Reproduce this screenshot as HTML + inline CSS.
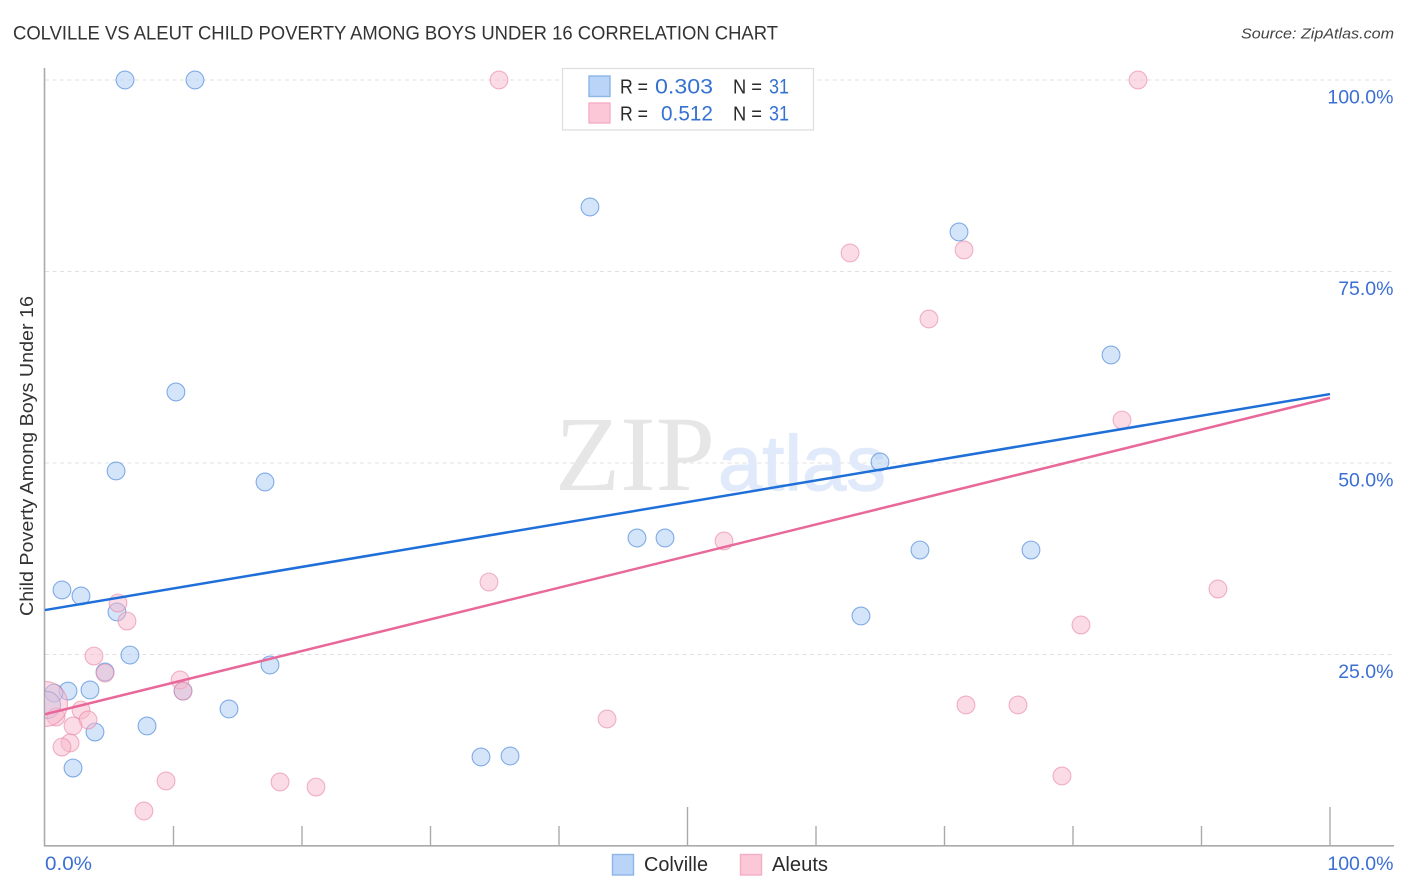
<!DOCTYPE html>
<html lang="en">
<head>
<meta charset="utf-8">
<title>Colville vs Aleut Child Poverty Among Boys Under 16 Correlation Chart</title>
<style>
  html, body { margin: 0; padding: 0; background: #fff; }
  svg { display: block; font-family: "Liberation Sans", sans-serif; }
</style>
</head>
<body>
<svg id="chart" xmlns="http://www.w3.org/2000/svg" width="1406" height="892" viewBox="0 0 1406 892">
  <defs>
    <clipPath id="plot-clip"><rect x="45" y="60" width="1350" height="786"/></clipPath>
  </defs>
  <rect width="1406" height="892" fill="#fff"/>
  <text x="13" y="39.5" font-size="19" fill="#333" textLength="765" lengthAdjust="spacingAndGlyphs">COLVILLE VS ALEUT CHILD POVERTY AMONG BOYS UNDER 16 CORRELATION CHART</text>
  <text x="1394" y="38.5" font-size="15" font-style="italic" fill="#444" text-anchor="end" textLength="153" lengthAdjust="spacingAndGlyphs">Source: ZipAtlas.com</text>
  <g id="grid"></g>
  <g>
    <text x="555" y="490" font-family="'Liberation Serif', serif" font-size="107" fill="#e6e6e6" textLength="160" lengthAdjust="spacingAndGlyphs">ZIP</text>
    <text x="718" y="490" font-size="78" fill="#e0eafa" stroke="#e0eafa" stroke-width="1.2" textLength="168" lengthAdjust="spacingAndGlyphs">atlas</text>
  </g>
  <g id="axes"></g>
  <g id="points" clip-path="url(#plot-clip)"></g>
  <g id="lines"></g>
  <g id="labels"></g>
  <text transform="translate(33,456) rotate(-90)" font-size="18" fill="#333" text-anchor="middle" textLength="320" lengthAdjust="spacingAndGlyphs">Child Poverty Among Boys Under 16</text>

  <g>
    <rect x="562.5" y="68.5" width="251" height="61.5" fill="#fff" stroke="#dddddd" stroke-width="1.2"/>
    <rect x="589" y="76" width="21" height="20.5" fill="#b9d4f7" stroke="#8db5e8" stroke-width="1.4"/>
    <rect x="589" y="103" width="21" height="20" fill="#fcc8d8" stroke="#f4aec6" stroke-width="1.4"/>
    <g font-size="20" fill="#2b2b2b">
      <text x="620" y="93.5" textLength="28" lengthAdjust="spacingAndGlyphs">R =</text>
      <text x="655" y="93.5" fill="#3571d0" font-size="21" textLength="58" lengthAdjust="spacingAndGlyphs">0.303</text>
      <text x="733" y="93.5" textLength="29" lengthAdjust="spacingAndGlyphs">N =</text>
      <text x="769" y="93.5" fill="#3571d0" font-size="21" textLength="20" lengthAdjust="spacingAndGlyphs">31</text>
      <text x="620" y="120.5" textLength="28" lengthAdjust="spacingAndGlyphs">R =</text>
      <text x="661" y="120.5" fill="#3571d0" font-size="21" textLength="52" lengthAdjust="spacingAndGlyphs">0.512</text>
      <text x="733" y="120.5" textLength="29" lengthAdjust="spacingAndGlyphs">N =</text>
      <text x="769" y="120.5" fill="#3571d0" font-size="21" textLength="20" lengthAdjust="spacingAndGlyphs">31</text>
    </g>
  </g>

  <g>
    <g>
      <rect x="612.5" y="854.5" width="21" height="20.5" fill="#b9d4f7" stroke="#8db5e8" stroke-width="1.4"/>
      <text x="644" y="871" font-size="20" fill="#2b2b2b" textLength="64" lengthAdjust="spacingAndGlyphs">Colville</text>
    </g>
    <g>
      <rect x="740.5" y="854.5" width="21" height="20.5" fill="#fcc8d8" stroke="#f4aec6" stroke-width="1.4"/>
      <text x="772" y="871" font-size="20" fill="#2b2b2b" textLength="56" lengthAdjust="spacingAndGlyphs">Aleuts</text>
    </g>
  </g>
</svg>

<script>
const colvilleX = [6.23, 11.67, 42.41, 71.13, 82.96, 10.19, 5.53, 17.12, 64.98, 46.07, 48.25, 68.09, 76.73, 63.50, 1.32, 2.80, 5.60, 6.61, 4.67, 17.51, 10.74, 3.50, 1.79, 0.70, 14.32, 7.94, 3.89, 2.18, 33.93, 36.19, 0.16];
const colvilleY = [100, 100, 83.42, 80.16, 64.10, 59.27, 48.96, 47.52, 50.13, 40.21, 40.21, 38.64, 38.64, 30.03, 33.42, 32.64, 30.55, 24.93, 22.72, 23.63, 20.23, 20.37, 20.23, 19.97, 17.89, 15.67, 14.88, 10.18, 11.62, 11.75, 18.41];
const aleutsX = [35.33, 85.06, 62.65, 71.52, 68.79, 83.81, 52.84, 34.55, 91.28, 80.62, 5.68, 6.38, 3.81, 4.67, 10.51, 10.74, 71.67, 75.72, 43.74, 2.80, 3.35, 2.18, 1.95, 1.32, 0.86, 79.14, 9.42, 18.29, 21.09, 7.70, 0];
const aleutsY = [100, 100, 77.42, 77.81, 68.80, 55.61, 39.82, 34.46, 33.55, 28.85, 31.72, 29.37, 24.80, 22.58, 21.67, 20.23, 18.41, 18.41, 16.58, 17.75, 16.45, 15.67, 13.45, 12.92, 16.84, 9.14, 8.49, 8.36, 7.70, 4.57, 18.54];
const colvilleTrendX = [0, 100];
const colvilleTrendY = [30.8, 59.0];
const aleutsTrendX = [0, 100];
const aleutsTrendY = [17.2, 58.5];
const yTickValues = [100, 75, 50, 25];
const yTickLabels = ["100.0%", "75.0%", "50.0%", "25.0%"];
const xTickValues = [0, 10, 20, 30, 40, 50, 60, 70, 80, 90, 100];
const xTickLabels = ["0.0%", "100.0%"];

const SVG_NS = "http://www.w3.org/2000/svg";
const xScale = v => 45 + v * 12.85;
const yScale = v => 846 - v * 7.66;

function make(tag, parent, attrs) {
  const el = document.createElementNS(SVG_NS, tag);
  for (const k in attrs) el.setAttribute(k, attrs[k]);
  parent.appendChild(el);
  return el;
}

const grid = document.getElementById("grid");
yTickValues.forEach(v => {
  const g = make("line", grid, { x1: 45, x2: 1394, y1: yScale(v), y2: yScale(v), stroke: "#e0e0e0", "stroke-width": 1, "stroke-dasharray": "4 3.5" });
  
  
});

const axes = document.getElementById("axes");
const yAxis = make("line", axes, { x1: 44.5, x2: 44.5, y1: 68, y2: 846.5, stroke: "#aaaaaa", "stroke-width": 1.6 });


const xAxis = make("line", axes, { x1: 44, x2: 1394, y1: 845.8, y2: 845.8, stroke: "#aaaaaa", "stroke-width": 1.6 });


xTickValues.forEach(v => {
  if (v === 0) return;
  const top = v % 50 === 0 ? 807 : 826;
  const t = make("line", axes, { x1: xScale(v), x2: xScale(v), y1: top, y2: 846, stroke: "#aaaaaa", "stroke-width": 1.4 });
  
  
});

const pointsGroup = document.getElementById("points");
function drawSeries(xs, ys, fill, stroke, name, largeRadius) {
  xs.forEach((x, i) => {
    const r = i === xs.length - 1 ? largeRadius : 8.9;
    const c = make("circle", pointsGroup, { cx: xScale(x), cy: yScale(ys[i]), r: r, fill: fill, "fill-opacity": 0.5, stroke: stroke, "stroke-opacity": 0.62, "stroke-width": 1.1 });
    
    
  });
}
drawSeries(colvilleX, colvilleY, "#acccf4", "#3f7fd8", "colville-point", 13.5);
drawSeries(aleutsX, aleutsY, "#f8b8cc", "#e888a8", "aleuts-point", 22.5);

const linesGroup = document.getElementById("lines");
const blueLine = make("line", linesGroup, { x1: xScale(colvilleTrendX[0]), y1: yScale(colvilleTrendY[0]), x2: xScale(colvilleTrendX[1]), y2: yScale(colvilleTrendY[1]), stroke: "#1f6fd9", "stroke-width": 2.5 });


const pinkLine = make("line", linesGroup, { x1: xScale(aleutsTrendX[0]), y1: yScale(aleutsTrendY[0]), x2: xScale(aleutsTrendX[1]), y2: yScale(aleutsTrendY[1]), stroke: "#e9689a", "stroke-width": 2.5 });



const labelsGroup = document.getElementById("labels");
yTickValues.forEach((v, i) => {
  const t = make("text", labelsGroup, { x: 1393.5, y: yScale(v) + 23.5, "font-size": 19.5, fill: "#3b6fd4", "text-anchor": "end" });
  t.textContent = yTickLabels[i];
  
  
});
const xLeft = make("text", labelsGroup, { x: 45, y: 870, "font-size": 19.5, fill: "#3b6fd4", textLength: 47, lengthAdjust: "spacingAndGlyphs" });
xLeft.textContent = xTickLabels[0];


const xRight = make("text", labelsGroup, { x: 1393.5, y: 870, "font-size": 19.5, fill: "#3b6fd4", "text-anchor": "end" });
xRight.textContent = xTickLabels[1];


</script>
</body>
</html>
